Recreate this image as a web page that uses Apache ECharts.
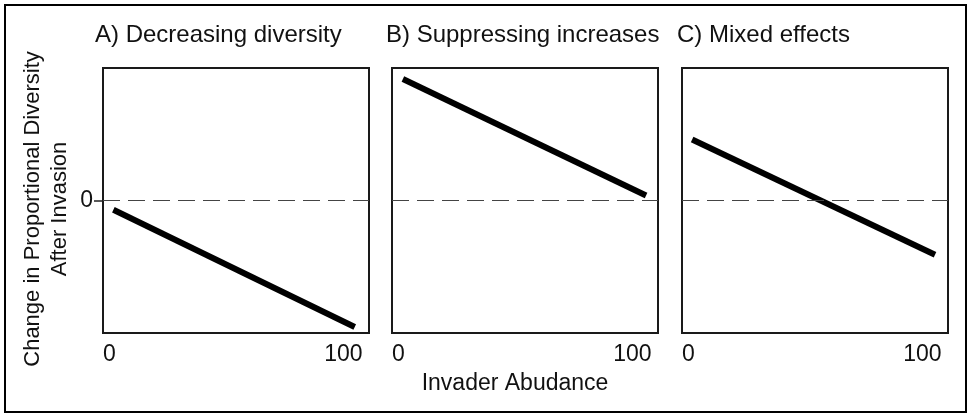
<!DOCTYPE html>
<html><head><meta charset="utf-8">
<script src="https://cdn.jsdelivr.net/npm/echarts@6/dist/echarts.min.js"></script>
<style>html,body{margin:0;padding:0;background:#fff}#c{width:971px;height:417px}</style>
</head><body><div id="c"></div>
<script>
// ---- data ----
const panelTitles = ['A) Decreasing diversity', 'B) Suppressing increases', 'C) Mixed effects'];
const abundanceA = [4, 97];
const diversityA = [-0.07, -0.955];
const abundanceB = [4.2, 97.9];
const diversityB = [0.917, 0.038];
const abundanceC = [3.9, 97.5];
const diversityC = [0.46, -0.41];
const xTickValues = [0, 100];
const yTickValues = [0];
const zeroLevel = 0;
const yAxisTitle = 'Change in Proportional Diversity\nAfter Invasion';
const xAxisTitle = 'Invader Abudance';

// ---- layout / style ----
const FONT = '"Liberation Sans", Arial, sans-serif';
const panels = [
  {x: abundanceA, y: diversityA, left: 103, titleX: 95},
  {x: abundanceB, y: diversityB, left: 392, titleX: 386},
  {x: abundanceC, y: diversityC, left: 682, titleX: 677}
];
const GTOP = 68, GW = 266, GH = 265;

const chart = echarts.init(document.getElementById('c'), null, {renderer: 'canvas'});

const option = {
  animation: false,
  backgroundColor: '#fff',
  title: panels.map((p, i) => ({
    text: panelTitles[i], left: p.titleX, top: 23, padding: 0,
    textStyle: {fontFamily: FONT, fontSize: 24, fontWeight: 'normal', color: '#111'}
  })),
  grid: panels.map(p => ({
    left: p.left, top: GTOP, width: GW, height: GH,
    show: true, borderColor: '#1a1a1a', borderWidth: 2, backgroundColor: 'transparent',
    containLabel: false
  })),
  xAxis: panels.map((p, i) => ({
    gridIndex: i, type: 'value', min: 0, max: 102.5,
    axisLine: {show: false}, axisTick: {show: false}, splitLine: {show: false},
    axisLabel: {
      customValues: xTickValues, color: '#111', fontFamily: FONT, fontSize: 23, margin: 10,
      alignMinLabel: 'left', alignMaxLabel: 'right'
    }
  })),
  yAxis: panels.map((p, i) => ({
    gridIndex: i, type: 'value', min: -1, max: 1, show: i === 0,
    axisLine: {show: false}, splitLine: {show: false},
    axisTick: {show: true, customValues: yTickValues, length: 9, lineStyle: {color: '#222', width: 1.5}},
    axisLabel: {customValues: yTickValues, color: '#111', fontFamily: FONT, fontSize: 23, margin: 10}
  })),
  series: panels.map((p, i) => ({
    type: 'line', xAxisIndex: i, yAxisIndex: i, silent: true,
    data: p.x.map((x, j) => [x, p.y[j]]),
    symbol: 'none',
    lineStyle: {color: '#000', width: 6, cap: 'butt'},
    markLine: {
      silent: true, symbol: ['none', 'none'], label: {show: false},
      lineStyle: {color: '#444', width: 1, type: [17, 8]},
      data: [{yAxis: zeroLevel}]
    }
  })),
  graphic: [
    {type: 'rect', shape: {x: 5, y: 5, width: 961, height: 407},
     style: {fill: 'none', stroke: '#000', lineWidth: 2}, silent: true},
    {type: 'text', x: 46, y: 209, rotation: Math.PI / 2,
     style: {text: yAxisTitle, fontFamily: FONT, fontSize: 22, lineHeight: 27,
             fill: '#111', align: 'center', verticalAlign: 'middle'}},
    {type: 'text', x: 515, y: 384,
     style: {text: xAxisTitle, fontFamily: FONT, fontSize: 23, fill: '#111',
             align: 'center', verticalAlign: 'middle'}}
  ]
};
chart.setOption(option);
</script></body></html>
